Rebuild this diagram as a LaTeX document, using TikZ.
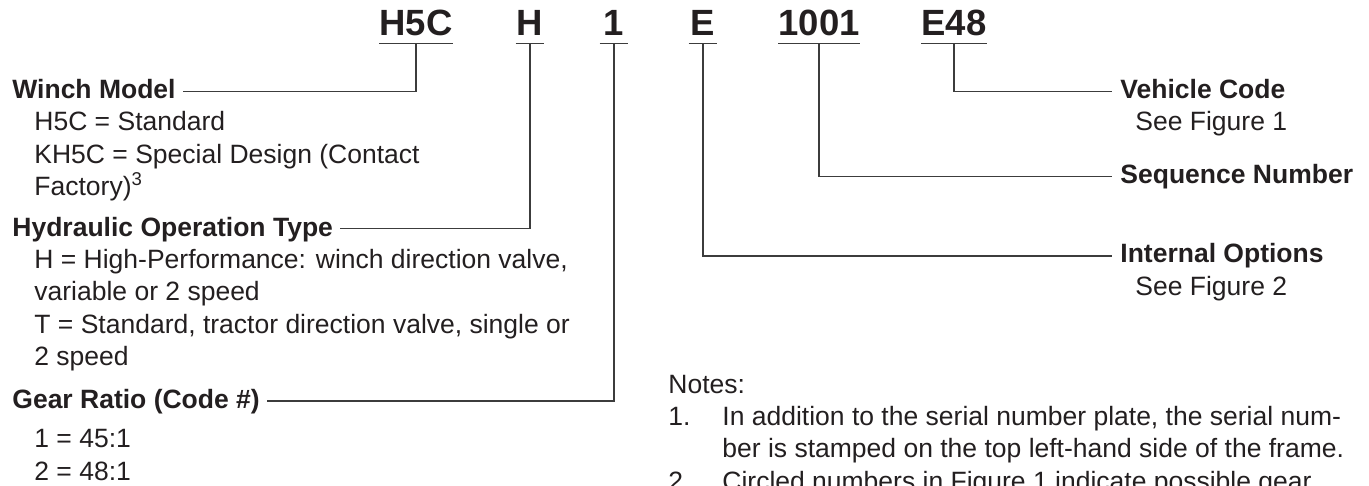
\documentclass[tikz,border=0pt]{standalone}
\usepackage{fontspec}
\setmainfont{Liberation Sans}
\usetikzlibrary{positioning}
\definecolor{ink}{HTML}{231F20}
\definecolor{rule}{HTML}{3C3C3C}
\tikzset{
  code/.style={font=\fontsize{18.25}{20}\selectfont\bfseries, text=ink, anchor=base,
    inner xsep=0pt, inner ysep=3.75pt, text depth=0pt, minimum width=14pt},
  head/.style={font=\fontsize{13.25}{16}\selectfont\bfseries, text=ink, anchor=base west,
    inner sep=0pt, text height=0.72em, text depth=0pt},
  body/.style={font=\fontsize{13.25}{16}\selectfont, text=ink, anchor=base west, inner sep=0pt},
  lead/.style={draw=rule, line width=0.7pt},
}
\begin{document}
\begin{tikzpicture}[x=0.5pt, y=-0.5pt]
  \useasboundingbox (0,0) rectangle (1369,486);
  \clip (0,0) rectangle (1369,486);

  % serial number code
  \node[code] (h5c) at (416,35.5) {H5C};
  \node[code] (hyd) at (530,35.5) {H};
  \node[code] (one) at (614,35.5) {1};
  \node[code] (opt) at (703,35.5) {E};
  \node[code] (seq) at (819,35.5) {1001};
  \node[code] (veh) at (954,35.5) {E48};
  \foreach \c in {h5c,hyd,one,opt,seq,veh}
    \draw[lead] (\c.south west) -- (\c.south east);

  % left column
  \node[head] (winch) at (12,99) {Winch Model};
  \node[body] (w1) at (34,131) {H5C = Standard};
  \node[body] (w2) at (34,163.5) {KH5C = Special Design (Contact};
  \node[body] (w3) at (34,196) {Factory)\textsuperscript{3}};

  \node[head] (hydtype) at (12,236) {Hydraulic Operation Type};
  \node[body] (t1) at (34,268) {H = High-Performance: winch direction valve,};
  \node[body] (t2) at (34,300.5) {variable or 2 speed};
  \node[body] (t3) at (34,333) {T = Standard, tractor direction valve, single or};
  \node[body] (t4) at (34,365.5) {2 speed};

  \node[head] (gear) at (12,408) {Gear Ratio (Code \#)};
  \node[body] (g1) at (34,447) {1 = 45:1};
  \node[body] (g2) at (34,480) {2 = 48:1};

  % right column
  \node[head] (vehcode) at (1120,99) {Vehicle Code};
  \node[body] (v1) at (1135,131) {See Figure 1};
  \node[head] (seqnum) at (1120,184) {Sequence Number};
  \node[head] (intopt) at (1120,263) {Internal Options};
  \node[body] (i1) at (1135,295) {See Figure 2};

  % notes
  \node[body] (notes) at (668,393) {Notes:};
  \node[body] (n1) at (668,425) {1.};
  \node[body] (n1a) at (722,425) {In addition to the serial number plate, the serial num-};
  \node[body] (n1b) at (722,457.5) {ber is stamped on the top left-hand side of the frame.};
  \node[body] (n2) at (668,490) {2.};
  \node[body] (n2a) at (722,490) {Circled numbers in Figure 1 indicate possible gear};

  % leaders
  \draw[lead] (h5c.south) |- ([xshift=3.5pt]winch.east);
  \draw[lead] (hyd.south) |- ([xshift=3.5pt]hydtype.east);
  \draw[lead] (one.south) |- ([xshift=3.5pt]gear.east);
  \draw[lead] (opt.south) |- ([xshift=-4pt]intopt.west);
  \draw[lead] (seq.south) |- ([xshift=-4pt]seqnum.west);
  \draw[lead] (veh.south) |- ([xshift=-4pt]vehcode.west);
\end{tikzpicture}
\end{document}
